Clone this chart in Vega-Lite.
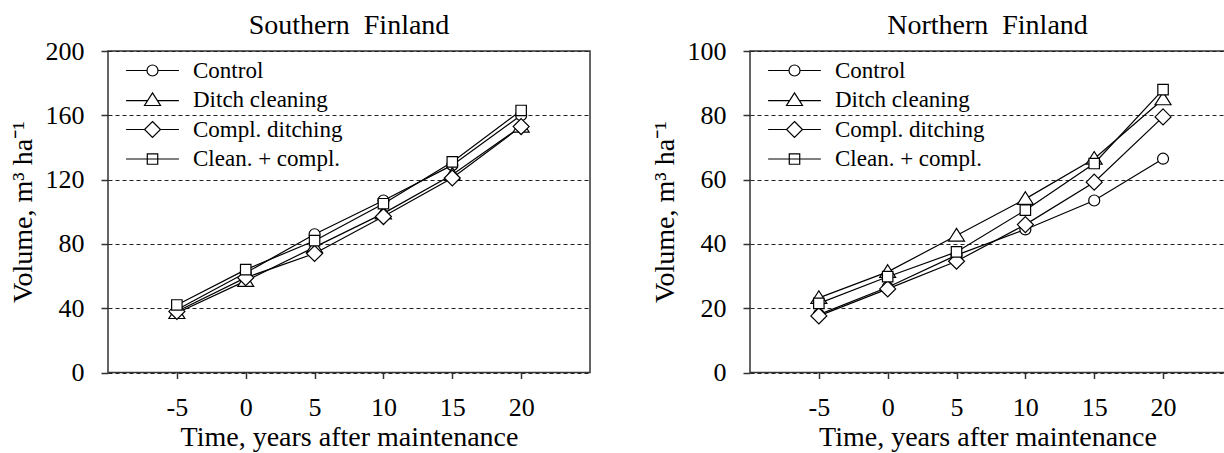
{
  "$schema": "https://vega.github.io/schema/vega-lite/v6.json",
  "background": "white",
  "padding": {"left": 8, "top": 11, "right": 0, "bottom": 0},
  "datasets": {
    "south": [
      {"treatment": "Control", "time": -5, "volume": 39},
      {"treatment": "Control", "time": 0, "volume": 62},
      {"treatment": "Control", "time": 5, "volume": 86},
      {"treatment": "Control", "time": 10, "volume": 107},
      {"treatment": "Control", "time": 15, "volume": 129},
      {"treatment": "Control", "time": 20, "volume": 160},
      {"treatment": "Ditch cleaning", "time": -5, "volume": 37},
      {"treatment": "Ditch cleaning", "time": 0, "volume": 57},
      {"treatment": "Ditch cleaning", "time": 5, "volume": 78},
      {"treatment": "Ditch cleaning", "time": 10, "volume": 99},
      {"treatment": "Ditch cleaning", "time": 15, "volume": 123},
      {"treatment": "Ditch cleaning", "time": 20, "volume": 153},
      {"treatment": "Compl. ditching", "time": -5, "volume": 38},
      {"treatment": "Compl. ditching", "time": 0, "volume": 59},
      {"treatment": "Compl. ditching", "time": 5, "volume": 74},
      {"treatment": "Compl. ditching", "time": 10, "volume": 97},
      {"treatment": "Compl. ditching", "time": 15, "volume": 121},
      {"treatment": "Compl. ditching", "time": 20, "volume": 153},
      {"treatment": "Clean. + compl.", "time": -5, "volume": 42},
      {"treatment": "Clean. + compl.", "time": 0, "volume": 64},
      {"treatment": "Clean. + compl.", "time": 5, "volume": 82},
      {"treatment": "Clean. + compl.", "time": 10, "volume": 105},
      {"treatment": "Clean. + compl.", "time": 15, "volume": 131},
      {"treatment": "Clean. + compl.", "time": 20, "volume": 163}
    ],
    "north": [
      {"treatment": "Control", "time": -5, "volume": 18},
      {"treatment": "Control", "time": 0, "volume": 26.5},
      {"treatment": "Control", "time": 5, "volume": 36.5},
      {"treatment": "Control", "time": 10, "volume": 44.5},
      {"treatment": "Control", "time": 15, "volume": 53.5},
      {"treatment": "Control", "time": 20, "volume": 66.5},
      {"treatment": "Ditch cleaning", "time": -5, "volume": 23.2},
      {"treatment": "Ditch cleaning", "time": 0, "volume": 31.3},
      {"treatment": "Ditch cleaning", "time": 5, "volume": 42.6},
      {"treatment": "Ditch cleaning", "time": 10, "volume": 54},
      {"treatment": "Ditch cleaning", "time": 15, "volume": 66.5},
      {"treatment": "Ditch cleaning", "time": 20, "volume": 85},
      {"treatment": "Compl. ditching", "time": -5, "volume": 17.6},
      {"treatment": "Compl. ditching", "time": 0, "volume": 26},
      {"treatment": "Compl. ditching", "time": 5, "volume": 34.6},
      {"treatment": "Compl. ditching", "time": 10, "volume": 46},
      {"treatment": "Compl. ditching", "time": 15, "volume": 59.2},
      {"treatment": "Compl. ditching", "time": 20, "volume": 79.5},
      {"treatment": "Clean. + compl.", "time": -5, "volume": 21.5},
      {"treatment": "Clean. + compl.", "time": 0, "volume": 29.8},
      {"treatment": "Clean. + compl.", "time": 5, "volume": 37.5},
      {"treatment": "Clean. + compl.", "time": 10, "volume": 50.5},
      {"treatment": "Clean. + compl.", "time": 15, "volume": 65},
      {"treatment": "Clean. + compl.", "time": 20, "volume": 88}
    ]
  },
  "spacing": 59,
  "resolve": {
    "scale": {"x": "independent", "y": "independent", "shape": "independent", "color": "independent"},
    "legend": {"shape": "independent", "color": "independent"}
  },
  "hconcat": [
    {
      "width": 482,
      "height": 321.5,
      "title": {"text": "Southern\u00a0 Finland"},
      "data": {"name": "south"},
      "encoding": {
        "x": {"field": "time", "type": "quantitative", "scale": {"domain": [-10, 25], "nice": false, "zero": false}, "axis": {"values": [-5, 0, 5, 10, 15, 20], "title": "Time, years after maintenance", "labelExpr": "replace(datum.label, '\u2212', '-')"}},
        "y": {"field": "volume", "type": "quantitative", "scale": {"domain": [0, 200], "nice": false}, "axis": {"values": [0, 40, 80, 120, 160, 200], "title": "Volume, m³ ha⁻¹"}}
      },
      "layer": [
        {
          "mark": {"type": "line", "strokeWidth": 1.2},
          "encoding": {
            "color": {
              "field": "treatment", "type": "nominal",
              "scale": {"domain": ["Control", "Ditch cleaning", "Compl. ditching", "Clean. + compl."], "range": ["black", "black", "black", "black"]},
              "legend": {
                "title": null, "orient": "none", "legendX": 33, "legendY": 8, "padding": 0,
                "symbolSize": 121, "symbolStrokeWidth": 1.2, "symbolFillColor": "white", "symbolOpacity": 1,
                "symbolType": {"expr": "datum.value == 'Control' ? 'M-4.8,0H-1M1,0H4.8M-1,0A1,1,0,1,1,1,0A1,1,0,1,1,-1,0Z' : datum.value == 'Ditch cleaning' ? 'M-4.8,0.1H-0.88M0.88,0.1H4.8M0,-1.3L1.45,1L-1.45,1Z' : datum.value == 'Compl. ditching' ? 'M-4.8,0H-1.45M1.45,0H4.8M0,-1.45L1.45,0L0,1.45L-1.45,0Z' : 'M-4.8,0H4.8M-0.95,-0.95H0.95V0.95H-0.95Z'"},
                "labelFont": "Liberation Serif", "labelFontSize": 23, "labelColor": "black", "labelOffset": 29, "rowPadding": 5.5,
                "encoding": {"symbols": {"fill": {"value": "white"}, "strokeWidth": {"value": 1.2}, "opacity": {"value": 1}}}
              }
            }
          }
        },
        {
          "mark": {"type": "point", "filled": true, "fill": "white", "stroke": "black", "strokeWidth": 1.2, "opacity": 1, "size": 121},
          "encoding": {
            "shape": {
              "field": "treatment", "type": "nominal",
              "scale": {"domain": ["Clean. + compl.", "Compl. ditching", "Ditch cleaning", "Control"], "range": ["M-0.95,-0.95H0.95V0.95H-0.95Z", "M0,-1.45L1.45,0L0,1.45L-1.45,0Z", "M0,-1.3L1.45,1L-1.45,1Z", "M-1,0A1,1,0,1,1,1,0A1,1,0,1,1,-1,0Z"]},
              "legend": null
            }
          }
        }
      ]
    },
    {
      "width": 475,
      "height": 321.5,
      "title": {"text": "Northern\u00a0 Finland"},
      "data": {"name": "north"},
      "encoding": {
        "x": {"field": "time", "type": "quantitative", "scale": {"domain": [-10, 24.5], "nice": false, "zero": false}, "axis": {"values": [-5, 0, 5, 10, 15, 20], "title": "Time, years after maintenance", "labelExpr": "replace(datum.label, '\u2212', '-')"}},
        "y": {"field": "volume", "type": "quantitative", "scale": {"domain": [0, 100], "nice": false}, "axis": {"values": [0, 20, 40, 60, 80, 100], "title": "Volume, m³ ha⁻¹"}}
      },
      "layer": [
        {
          "mark": {"type": "line", "strokeWidth": 1.2},
          "encoding": {
            "color": {
              "field": "treatment", "type": "nominal",
              "scale": {"domain": ["Control", "Ditch cleaning", "Compl. ditching", "Clean. + compl."], "range": ["black", "black", "black", "black"]},
              "legend": {
                "title": null, "orient": "none", "legendX": 33, "legendY": 8, "padding": 0,
                "symbolSize": 121, "symbolStrokeWidth": 1.2, "symbolFillColor": "white", "symbolOpacity": 1,
                "symbolType": {"expr": "datum.value == 'Control' ? 'M-4.8,0H-1M1,0H4.8M-1,0A1,1,0,1,1,1,0A1,1,0,1,1,-1,0Z' : datum.value == 'Ditch cleaning' ? 'M-4.8,0.1H-0.88M0.88,0.1H4.8M0,-1.3L1.45,1L-1.45,1Z' : datum.value == 'Compl. ditching' ? 'M-4.8,0H-1.45M1.45,0H4.8M0,-1.45L1.45,0L0,1.45L-1.45,0Z' : 'M-4.8,0H4.8M-0.95,-0.95H0.95V0.95H-0.95Z'"},
                "labelFont": "Liberation Serif", "labelFontSize": 23, "labelColor": "black", "labelOffset": 29, "rowPadding": 5.5,
                "encoding": {"symbols": {"fill": {"value": "white"}, "strokeWidth": {"value": 1.2}, "opacity": {"value": 1}}}
              }
            }
          }
        },
        {
          "mark": {"type": "point", "filled": true, "fill": "white", "stroke": "black", "strokeWidth": 1.2, "opacity": 1, "size": 121},
          "encoding": {
            "shape": {
              "field": "treatment", "type": "nominal",
              "scale": {"domain": ["Clean. + compl.", "Compl. ditching", "Ditch cleaning", "Control"], "range": ["M-0.95,-0.95H0.95V0.95H-0.95Z", "M0,-1.45L1.45,0L0,1.45L-1.45,0Z", "M0,-1.3L1.45,1L-1.45,1Z", "M-1,0A1,1,0,1,1,1,0A1,1,0,1,1,-1,0Z"]},
              "legend": null
            }
          }
        }
      ]
    }
  ],
  "config": {
    "font": "Liberation Serif",
    "view": {"stroke": "#333", "strokeWidth": 1.5},
    "title": {"font": "Liberation Serif", "fontSize": 28, "fontWeight": "normal", "color": "black", "offset": -2, "anchor": "middle"},
    "axis": {
      "labelFont": "Liberation Serif", "labelFontSize": 26, "labelColor": "black",
      "titleFont": "Liberation Serif", "titleFontSize": 28, "titleFontWeight": "normal", "titleColor": "black",
      "tickColor": "#333", "tickWidth": 1.5, "tickSize": 7, "domain": false, "grid": false
    },
    "axisX": {"labelPadding": 16, "tickSize": 6, "titlePadding": 3, "labelAngle": 0},
    "axisY": {"labelPadding": 17, "titlePadding": 8, "grid": true, "gridDash": [4, 3], "gridColor": "#222", "gridWidth": 1}
  }
}
